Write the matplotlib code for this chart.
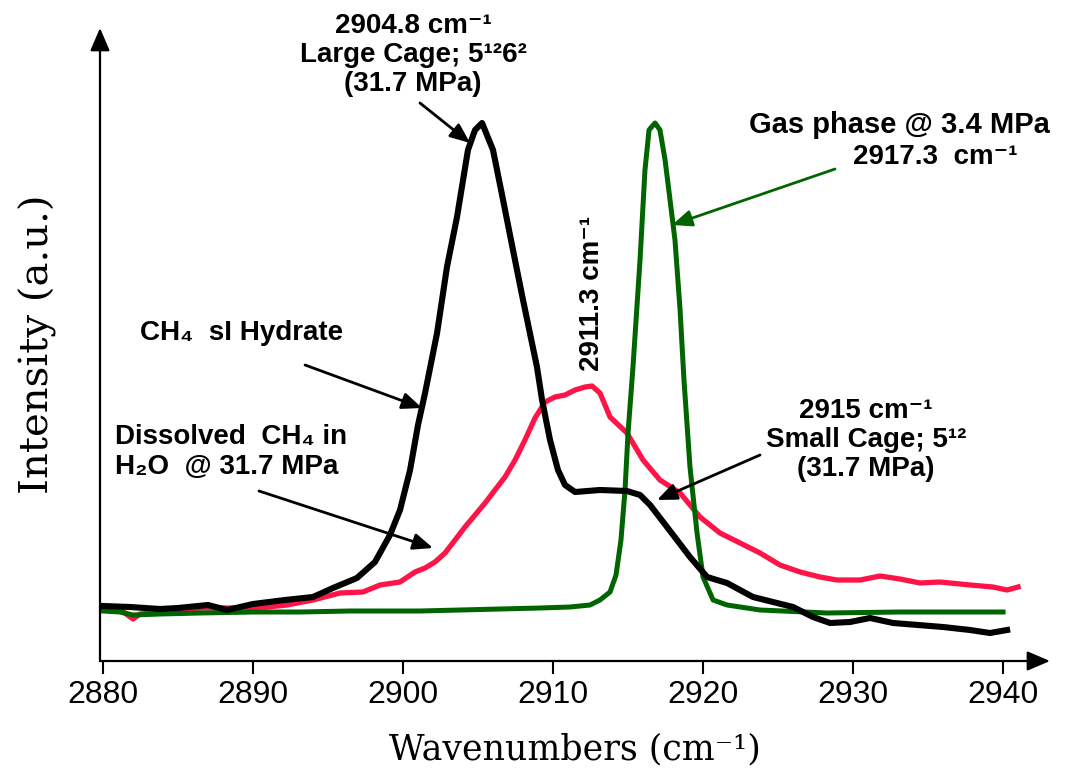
import matplotlib
matplotlib.use("Agg")
import matplotlib.pyplot as plt

# ---- data (wavenumber in cm-1, intensity in a.u.) ----
hydrate_wn = [2880.0, 2881.8, 2883.8, 2885.0, 2887.0, 2888.27, 2890.0, 2892.13, 2894.0, 2895.33,
              2896.93, 2898.13, 2899.13, 2899.8, 2900.47, 2901.0, 2901.47, 2902.27, 2902.93, 2903.6,
              2904.33, 2904.8, 2905.27, 2906.0, 2906.67, 2907.33, 2908.0, 2908.93, 2909.27, 2909.8,
              2910.33, 2910.8, 2911.47, 2913.13, 2914.93, 2915.8, 2916.47, 2917.6, 2919.13, 2920.27,
              2921.6, 2923.33, 2926.0, 2927.33, 2928.47, 2929.8, 2931.13, 2932.67, 2936.0, 2937.8,
              2939.13, 2940.27]
hydrate_int = [0.55, 0.54, 0.52, 0.53, 0.56, 0.51, 0.57, 0.61, 0.64, 0.73,
               0.83, 0.99, 1.26, 1.51, 1.91, 2.36, 2.68, 3.28, 3.94, 4.44,
               5.11, 5.31, 5.38, 5.11, 4.61, 4.11, 3.61, 2.94, 2.61, 2.21,
               1.91, 1.76, 1.69, 1.71, 1.70, 1.66, 1.56, 1.34, 1.04, 0.84,
               0.78, 0.64, 0.54, 0.44, 0.38, 0.39, 0.43, 0.38, 0.34, 0.31,
               0.28, 0.31]

dissolved_wn = [2881.0, 2882.0, 2882.47, 2884.0, 2886.67, 2888.47, 2890.93, 2892.27, 2894.0, 2895.8,
                2897.33, 2898.47, 2899.8, 2900.8, 2901.47, 2902.13, 2902.8, 2903.47, 2904.13, 2904.8,
                2905.47, 2906.13, 2906.8, 2907.47, 2908.13, 2908.8, 2909.47, 2910.13, 2910.8, 2911.47,
                2912.13, 2912.6, 2913.13, 2913.8, 2914.93, 2916.0, 2917.13, 2918.47, 2919.8, 2921.13,
                2922.47, 2923.8, 2925.13, 2926.47, 2927.8, 2928.93, 2930.47, 2931.8, 2933.13, 2934.47,
                2935.8, 2937.8, 2939.33, 2940.27, 2941.0]
dissolved_int = [0.53, 0.42, 0.47, 0.49, 0.53, 0.53, 0.54, 0.56, 0.61, 0.68,
                 0.69, 0.76, 0.79, 0.89, 0.93, 0.99, 1.08, 1.21, 1.34, 1.46,
                 1.58, 1.71, 1.84, 2.01, 2.21, 2.43, 2.59, 2.64, 2.66, 2.71,
                 2.74, 2.75, 2.68, 2.44, 2.28, 2.01, 1.81, 1.68, 1.44, 1.28,
                 1.18, 1.08, 0.96, 0.89, 0.84, 0.81, 0.81, 0.85, 0.82, 0.78,
                 0.79, 0.76, 0.74, 0.71, 0.74]

gas_wn = [2880.0, 2881.13, 2882.0, 2883.8, 2886.47, 2890.0, 2893.13, 2896.47, 2898.8, 2901.13,
          2903.8, 2906.47, 2909.13, 2911.13, 2912.47, 2913.13, 2913.8, 2914.2, 2914.53, 2914.8,
          2915.0, 2915.33, 2915.8, 2916.13, 2916.4, 2916.8, 2917.13, 2917.47, 2917.8, 2918.13,
          2918.47, 2918.73, 2919.13, 2919.6, 2920.0, 2920.67, 2921.6, 2923.8, 2928.27, 2933.13,
          2940.0]
gas_int = [0.50, 0.49, 0.46, 0.47, 0.48, 0.49, 0.49, 0.50, 0.50, 0.50,
           0.51, 0.52, 0.53, 0.54, 0.56, 0.61, 0.69, 0.86, 1.21, 1.71,
           2.28, 2.94, 4.01, 4.91, 5.31, 5.38, 5.31, 5.01, 4.61, 4.21,
           3.51, 2.81, 1.94, 1.28, 0.84, 0.61, 0.56, 0.51, 0.48, 0.49,
           0.49]

x_ticks = [2880, 2890, 2900, 2910, 2920, 2930, 2940]

RED = "#ff1447"
GREEN = "#006400"
SANS = ["Liberation Sans", "DejaVu Sans"]
SERIF = ["DejaVu Serif"]

fig = plt.figure(figsize=(10.68, 7.77), dpi=100)
ax = fig.add_axes([100 / 1068, 116 / 777, 950 / 1068, 633 / 777])
ax.set_xlim(2879.8, 2943.13)
ax.set_ylim(0, 6.33)

ax.plot(dissolved_wn, dissolved_int, color=RED, lw=3.8, solid_joinstyle="round")
ax.plot(gas_wn, gas_int, color=GREEN, lw=3.6, solid_joinstyle="round")
ax.plot(hydrate_wn, hydrate_int, color="black", lw=4.4, solid_joinstyle="round")

# axes drawn as arrows
for s in ax.spines.values():
    s.set_visible(False)
axis_arrow = dict(arrowstyle="-|>,head_length=0.7,head_width=0.3", color="black", lw=1.6,
                  mutation_scale=20, shrinkA=0, shrinkB=0)
ax.annotate("", xy=(1, 0), xytext=(0, 0), xycoords="axes fraction", arrowprops=axis_arrow)
ax.annotate("", xy=(0, 1), xytext=(0, 0), xycoords="axes fraction", arrowprops=axis_arrow)

ax.set_xticks(x_ticks)
ax.set_yticks([])
ax.tick_params(axis="x", direction="out", length=9, width=1.5, pad=5)
for lbl in ax.get_xticklabels():
    lbl.set_fontfamily(SANS)
    lbl.set_fontsize(23)

ax.set_xlabel("Wavenumbers (cm\u207b\u00b9)", fontfamily=SERIF, fontsize=25, labelpad=16)
ax.set_ylabel("Intensity (a.u.)", fontfamily=SERIF, fontsize=29, labelpad=31)

# annotations
arr = dict(arrowstyle="-|>,head_length=0.6,head_width=0.25", color="black", lw=2,
           mutation_scale=20, shrinkA=0, shrinkB=0)
garr = dict(arr, color=GREEN)
txt = dict(fontfamily=SANS, fontsize=20, fontweight="bold", clip_on=False)

ax.text(2900.67, 6.06, "2904.8 cm\u207b\u00b9\nLarge Cage; 5\u00b9\u00b26\u00b2\n(31.7 MPa)",
        ha="center", va="center", multialignment="center", linespacing=1.15, **txt)
ax.annotate("", xy=(2904.47, 5.18), xytext=(2901.13, 5.58), arrowprops=arr)

ax.text(2933.07, 5.36, "Gas phase @ 3.4 MPa", ha="center", va="center",
        **dict(txt, fontsize=21))
ax.text(2935.47, 5.04, "2917.3  cm\u207b\u00b9", ha="center", va="center", **txt)
ax.annotate("", xy=(2917.93, 4.36), xytext=(2928.8, 4.92), arrowprops=garr)

ax.text(2912.6, 3.68, "2911.3 cm\u207b\u00b9", rotation=90, ha="center", va="center", **txt)

ax.text(2882.47, 3.28, "CH\u2084  sI Hydrate", ha="left", va="center", **txt)
ax.annotate("", xy=(2901.27, 2.53), xytext=(2893.47, 2.96), arrowprops=arr)

ax.text(2880.8, 2.09, "Dissolved  CH\u2084 in\nH\u2082O  @ 31.7 MPa", ha="left", va="center",
        multialignment="left", linespacing=1.2, **txt)
ax.annotate("", xy=(2902.0, 1.13), xytext=(2890.4, 1.70), arrowprops=arr)

ax.text(2930.87, 2.21, "2915 cm\u207b\u00b9\nSmall Cage; 5\u00b9\u00b2\n(31.7 MPa)",
        ha="center", va="center", multialignment="center", linespacing=1.15, **txt)
ax.annotate("", xy=(2916.93, 1.61), xytext=(2923.8, 2.06), arrowprops=arr)

fig.savefig("out.png", dpi=100)
